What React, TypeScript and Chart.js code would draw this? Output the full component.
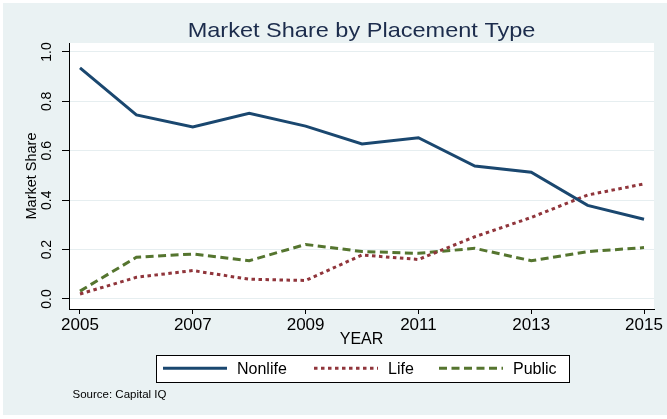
import React, { useEffect, useRef } from "react";
import { Chart, registerables } from "chart.js";

Chart.register(...registerables);

const years = [2005, 2006, 2007, 2008, 2009, 2010, 2011, 2012, 2013, 2014, 2015];
const nonlife = [0.936, 0.745, 0.696, 0.752, 0.7, 0.628, 0.653, 0.538, 0.513, 0.379, 0.323];
const life = [0.02, 0.088, 0.115, 0.08, 0.075, 0.178, 0.16, 0.252, 0.33, 0.421, 0.466];
const publicShare = [0.032, 0.169, 0.182, 0.155, 0.221, 0.192, 0.185, 0.205, 0.155, 0.192, 0.208];
const seriesNames = ["Nonlife", "Life", "Public"];
const xTickValues = [2005, 2007, 2009, 2011, 2013, 2015];
const yTickValues = [0, 0.2, 0.4, 0.6, 0.8, 1.0];
const titleText = "Market Share by Placement Type";
const xTitle = "YEAR";
const yTitle = "Market Share";
const sourceText = "Source: Capital IQ";

const FONT = '"Liberation Sans", Arial, sans-serif';
const BG = "#eaf2f3";
const NAVY = "#1a476f";
const MAROON = "#90353b";
const GREEN = "#55752f";

const decor = {
  id: "decor",
  beforeDraw(chart: any) {
    const { ctx, chartArea: a, width, height } = chart;
    ctx.save();
    ctx.fillStyle = "#ffffff";
    ctx.fillRect(0, 0, width, height);
    ctx.fillStyle = BG;
    ctx.fillRect(3, 3, width - 3, height - 7);
    ctx.fillStyle = "#ffffff";
    ctx.fillRect(a.left, a.top, a.right - a.left, a.bottom - a.top);
    ctx.restore();
  },
  afterDraw(chart: any) {
    const { ctx, chartArea: a } = chart;
    ctx.save();
    // title
    ctx.fillStyle = "#1c2c4c";
    ctx.font = `21px ${FONT}`;
    ctx.textAlign = "center";
    ctx.textBaseline = "alphabetic";
    ctx.translate((a.left + a.right) / 2, 36.5);
    ctx.scale(1.12, 1);
    ctx.fillText(titleText, 0, 0);
    ctx.restore();

    // legend box
    ctx.save();
    const bx = 156.5, by = 355.5, bw = 413, bh = 27;
    ctx.fillStyle = "#ffffff";
    ctx.fillRect(bx, by, bw, bh);
    ctx.strokeStyle = "#000000";
    ctx.lineWidth = 1;
    ctx.strokeRect(bx, by, bw, bh);
    const lineStarts = [163, 314, 439];
    const lineLen = 64;
    const ly = 368.3;
    chart.data.datasets.forEach((ds: any, i: number) => {
      ctx.save();
      ctx.strokeStyle = ds.borderColor;
      ctx.lineWidth = ds.borderWidth;
      ctx.setLineDash(ds.borderDash || []);
      ctx.lineCap = "butt";
      ctx.beginPath();
      ctx.moveTo(lineStarts[i], ly);
      ctx.lineTo(lineStarts[i] + lineLen, ly);
      ctx.stroke();
      ctx.restore();
      ctx.fillStyle = "#000000";
      ctx.font = `16px ${FONT}`;
      ctx.textAlign = "left";
      ctx.textBaseline = "alphabetic";
      ctx.fillText(ds.label, lineStarts[i] + lineLen + 10, 374);
    });
    // source
    ctx.fillStyle = "#000000";
    ctx.font = `11.5px ${FONT}`;
    ctx.textAlign = "left";
    ctx.fillText(sourceText, 72.5, 397.5);
    ctx.restore();
  },
};

export default function App() {
  const ref = useRef<HTMLCanvasElement | null>(null);
  useEffect(() => {
    document.body.style.margin = "0";
    const canvas = ref.current;
    if (!canvas) return;
    const mk = (vals: number[]) => years.map((y, i) => ({ x: y, y: vals[i] }));
    const chart = new Chart(canvas, {
      type: "line",
      data: {
        datasets: [
          {
            label: seriesNames[0],
            data: mk(nonlife),
            borderColor: NAVY,
            borderWidth: 3,
            pointRadius: 0,
            tension: 0,
          },
          {
            label: seriesNames[1],
            data: mk(life),
            borderColor: MAROON,
            borderWidth: 3,
            borderDash: [3.5, 3.5],
            pointRadius: 0,
            tension: 0,
          },
          {
            label: seriesNames[2],
            data: mk(publicShare),
            borderColor: GREEN,
            borderWidth: 3,
            borderDash: [8, 4.5],
            pointRadius: 0,
            tension: 0,
          },
        ],
      },
      options: {
        animation: false,
        responsive: false,
        devicePixelRatio: 1,
        layout: { padding: { left: 0, right: 13, top: 43, bottom: 70 } },
        plugins: {
          legend: { display: false },
          title: { display: false },
          tooltip: { enabled: false },
        },
        scales: {
          x: {
            type: "linear",
            min: 2004.805,
            max: 2015.177,
            afterBuildTicks: (s: any) => {
              s.ticks = xTickValues.map((v) => ({ value: v }));
            },
            afterFit: (s: any) => {
              s.height = 40;
            },
            ticks: {
              autoSkip: false,
              maxRotation: 0,
              minRotation: 0,
              padding: 1,
              color: "#000000",
              font: { family: FONT, size: 17 },
              callback: (v: any) => String(v),
            },
            grid: {
              drawOnChartArea: false,
              drawTicks: true,
              tickLength: 5,
              tickColor: "#000000",
            },
            border: { display: true, color: "#000000", width: 1 },
            title: {
              display: true,
              text: xTitle,
              color: "#000000",
              font: { family: FONT, size: 16 },
              padding: { top: 0, bottom: 0 },
            },
          },
          y: {
            type: "linear",
            min: -0.0405,
            max: 1.0364,
            afterBuildTicks: (s: any) => {
              s.ticks = yTickValues.map((v) => ({ value: v }));
            },
            afterFit: (s: any) => {
              s.width = 69;
            },
            ticks: {
              minRotation: 90,
              maxRotation: 90,
              crossAlign: "center",
              padding: 5,
              color: "#000000",
              font: { family: FONT, size: 14 },
              callback: (v: any) => Number(v).toFixed(1),
            },
            grid: {
              color: "#e6eef0",
              lineWidth: 1,
              drawTicks: true,
              tickLength: 7,
              tickColor: "#000000",
            },
            border: { display: true, color: "#000000", width: 1 },
            title: {
              display: true,
              text: yTitle,
              color: "#000000",
              font: { family: FONT, size: 14.5 },
              padding: { top: 23, bottom: 0 },
            },
          },
        },
      },
      plugins: [decor],
    } as any);
    return () => chart.destroy();
  }, []);
  return <canvas ref={ref} width={667} height={419} style={{ display: "block" }} />;
}
